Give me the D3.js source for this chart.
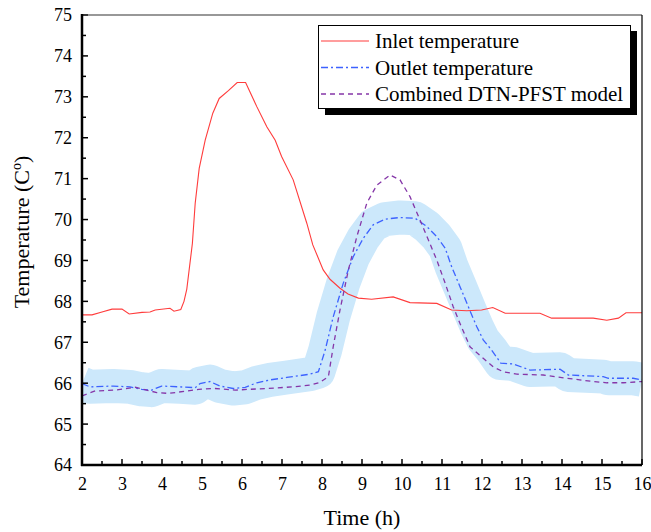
<!DOCTYPE html>
<html lang="en">
<head>
<meta charset="UTF-8">
<title>Inlet / outlet temperature</title>
<script src="https://cdn.jsdelivr.net/npm/d3@7/dist/d3.min.js"></script>
<style>
  body { margin: 0; background: #fff; }
  text { font-family: "Liberation Serif", "Times New Roman", serif; fill: #000; }
</style>
</head>
<body>
<script>
// values
var inletTime = [2.0, 2.25, 2.5, 2.75, 3.0, 3.18, 3.5, 3.7, 3.83, 4.2, 4.3, 4.47, 4.55, 4.62, 4.76, 4.83, 4.93, 5.08, 5.27, 5.43, 5.66, 5.88, 6.09, 6.37, 6.62, 6.83, 6.99, 7.28, 7.62, 7.77, 8.03, 8.2, 8.45, 8.65, 8.91, 9.24, 9.78, 10.2, 10.87, 11.24, 11.62, 11.99, 12.27, 12.58, 13.45, 13.74, 14.78, 15.12, 15.41, 15.6, 16.0];
var inletTemp = [67.67, 67.67, 67.74, 67.81, 67.81, 67.69, 67.73, 67.74, 67.79, 67.83, 67.76, 67.8, 68.0, 68.3, 69.42, 70.4, 71.25, 71.94, 72.6, 72.96, 73.15, 73.35, 73.35, 72.76, 72.27, 71.94, 71.54, 70.97, 69.91, 69.38, 68.77, 68.54, 68.32, 68.18, 68.08, 68.05, 68.11, 67.97, 67.95, 67.79, 67.77, 67.79, 67.85, 67.71, 67.71, 67.59, 67.59, 67.54, 67.59, 67.72, 67.72];

var outletTime = [2.0, 2.2, 2.78, 3.2, 3.49, 3.74, 3.99, 4.45, 4.83, 4.95, 5.2, 5.45, 5.78, 6.08, 6.37, 6.7, 7.12, 7.7, 7.91, 8.08, 8.28, 8.53, 8.78, 9.03, 9.28, 9.58, 9.95, 10.33, 10.62, 10.87, 11.08, 11.24, 11.45, 11.7, 11.87, 12.03, 12.24, 12.47, 12.78, 13.2, 13.95, 14.16, 15.03, 15.16, 15.78, 16.0];
var outletTemp = [65.99, 65.91, 65.93, 65.91, 65.85, 65.83, 65.93, 65.91, 65.89, 65.99, 66.04, 65.93, 65.87, 65.9, 66.01, 66.08, 66.14, 66.22, 66.28, 66.81, 67.62, 68.44, 69.09, 69.54, 69.87, 70.01, 70.05, 70.03, 69.83, 69.58, 69.3, 68.85, 68.36, 67.77, 67.38, 67.06, 66.81, 66.49, 66.47, 66.32, 66.34, 66.2, 66.16, 66.12, 66.12, 66.08];

var modelTime = [2.0, 2.33, 2.83, 3.33, 3.87, 4.17, 4.92, 5.33, 5.83, 6.17, 6.62, 7.28, 7.74, 7.95, 8.16, 8.28, 8.45, 8.66, 8.87, 9.12, 9.37, 9.7, 9.95, 10.2, 10.45, 10.66, 10.87, 11.08, 11.28, 11.45, 11.7, 12.03, 12.28, 12.53, 12.87, 13.53, 14.12, 14.78, 15.12, 15.53, 16.0];
var modelTemp = [65.69, 65.81, 65.83, 65.9, 65.77, 65.75, 65.85, 65.87, 65.83, 65.85, 65.87, 65.91, 65.96, 66.02, 66.16, 66.89, 67.79, 68.77, 69.58, 70.4, 70.84, 71.09, 70.97, 70.56, 69.99, 69.5, 69.01, 68.44, 67.87, 67.46, 66.89, 66.61, 66.4, 66.28, 66.22, 66.2, 66.12, 66.04, 66.01, 66.01, 66.04];

var xTicks = [2, 3, 4, 5, 6, 7, 8, 9, 10, 11, 12, 13, 14, 15, 16];
var yTicks = [64, 65, 66, 67, 68, 69, 70, 71, 72, 73, 74, 75];
var legendNames = ["Inlet temperature", "Outlet temperature", "Combined DTN-PFST model"];

var W = 651, H = 532;
var pL = 82, pT = 15, pR = 642, pB = 465;

var x = d3.scaleLinear().domain([2, 16]).range([pL, pR]);
var y = d3.scaleLinear().domain([64, 75]).range([pB, pT]);

var svg = d3.select("body").append("svg").attr("width", W).attr("height", H);

svg.append("defs").append("clipPath").attr("id", "plotclip")
  .append("rect").attr("x", pL).attr("y", pT).attr("width", pR - pL).attr("height", pB - pT);

function pts(ts, vs) { return ts.map(function(t, i) { return [t, vs[i]]; }); }
var line = d3.line().x(function(d) { return x(d[0]); }).y(function(d) { return y(d[1]); });

var plot = svg.append("g").attr("clip-path", "url(#plotclip)");

// light blue band around the outlet curve
plot.append("path")
  .attr("d", line(pts(outletTime, outletTemp)))
  .attr("fill", "none")
  .attr("stroke", "#cce8fb")
  .attr("stroke-width", 34)
  .attr("stroke-linejoin", "round")
  .attr("stroke-linecap", "butt");

var series = [
  { t: inletTime, v: inletTemp, color: "#ff3c3c", dash: null, w: 1.1 },
  { t: outletTime, v: outletTemp, color: "#3d62ff", dash: "7,3,2,3", w: 1.3 },
  { t: modelTime, v: modelTemp, color: "#8536a8", dash: "5,4", w: 1.3 }
];

series.forEach(function(s) {
  plot.append("path")
    .attr("d", line(pts(s.t, s.v)))
    .attr("fill", "none")
    .attr("stroke", s.color)
    .attr("stroke-width", s.w)
    .attr("stroke-dasharray", s.dash);
});

// axes
var xAxis = d3.axisBottom(x).tickValues(xTicks).tickSize(0).tickPadding(0).tickFormat(d3.format("d"));
var gx = svg.append("g").attr("transform", "translate(0," + pB + ")").call(xAxis);
gx.select(".domain").remove();
gx.selectAll("text").attr("y", 25).attr("dy", 0).attr("font-size", 18)
  .style("font-family", "'Liberation Serif', 'Times New Roman', serif");

var yAxis = d3.axisLeft(y).tickValues(yTicks).tickSize(0).tickPadding(10).tickFormat(d3.format("d"));
var gy = svg.append("g").attr("transform", "translate(" + pL + ",0)").call(yAxis);
gy.select(".domain").remove();
gy.selectAll("text").attr("dy", "0.33em").attr("font-size", 18)
  .style("font-family", "'Liberation Serif', 'Times New Roman', serif");

// inward ticks, major and minor
var xMinor = d3.range(2, 16.01, 0.5);
svg.append("g").selectAll("line").data(xMinor).enter().append("line")
  .attr("x1", function(d) { return x(d); }).attr("x2", function(d) { return x(d); })
  .attr("y1", pB).attr("y2", function(d) { return pB - (d % 1 === 0 ? 6 : 4); })
  .attr("stroke", "#000").attr("stroke-width", 1.5);
var yMinor = d3.range(64, 75.01, 0.5);
svg.append("g").selectAll("line").data(yMinor).enter().append("line")
  .attr("y1", function(d) { return y(d); }).attr("y2", function(d) { return y(d); })
  .attr("x1", pL).attr("x2", function(d) { return pL + (d % 1 === 0 ? 6 : 4); })
  .attr("stroke", "#000").attr("stroke-width", 1.5);

// frame
svg.append("line").attr("x1", pL).attr("x2", pR).attr("y1", pT).attr("y2", pT)
  .attr("stroke", "#333").attr("stroke-width", 1.2);
svg.append("line").attr("x1", pR).attr("x2", pR).attr("y1", pT).attr("y2", pB)
  .attr("stroke", "#000").attr("stroke-width", 1.2);
svg.append("line").attr("x1", pL).attr("x2", pL).attr("y1", pT - 1).attr("y2", pB + 1)
  .attr("stroke", "#000").attr("stroke-width", 2.5);
svg.append("line").attr("x1", pL - 1).attr("x2", pR).attr("y1", pB).attr("y2", pB)
  .attr("stroke", "#000").attr("stroke-width", 2.5);

// axis titles
svg.append("text").attr("x", 362).attr("y", 525).attr("text-anchor", "middle")
  .attr("font-size", 22).text("Time (h)");
var yt = svg.append("text").attr("transform", "translate(29,232) rotate(-90)")
  .attr("text-anchor", "middle").attr("font-size", 22);
yt.append("tspan").text("Temperature (C");
yt.append("tspan").attr("font-size", 14).attr("dy", -8).text("o");
yt.append("tspan").attr("dy", 8).text(")");

// legend with drop shadow
var lg = svg.append("g");
lg.append("rect").attr("x", 325).attr("y", 31).attr("width", 312).attr("height", 84).attr("fill", "#000");
lg.append("rect").attr("x", 318.5).attr("y", 25.5).attr("width", 312).attr("height", 83)
  .attr("fill", "#fff").attr("stroke", "#000").attr("stroke-width", 1);
legendNames.forEach(function(name, i) {
  var s = series[i];
  var yy = 41 + i * 26.5;
  lg.append("line").attr("x1", 321).attr("x2", 369).attr("y1", yy).attr("y2", yy)
    .attr("stroke", s.color).attr("stroke-width", s.w).attr("stroke-dasharray", s.dash);
  lg.append("text").attr("x", 375).attr("y", yy + 7).attr("font-size", 21).text(name);
});
</script>
</body>
</html>
